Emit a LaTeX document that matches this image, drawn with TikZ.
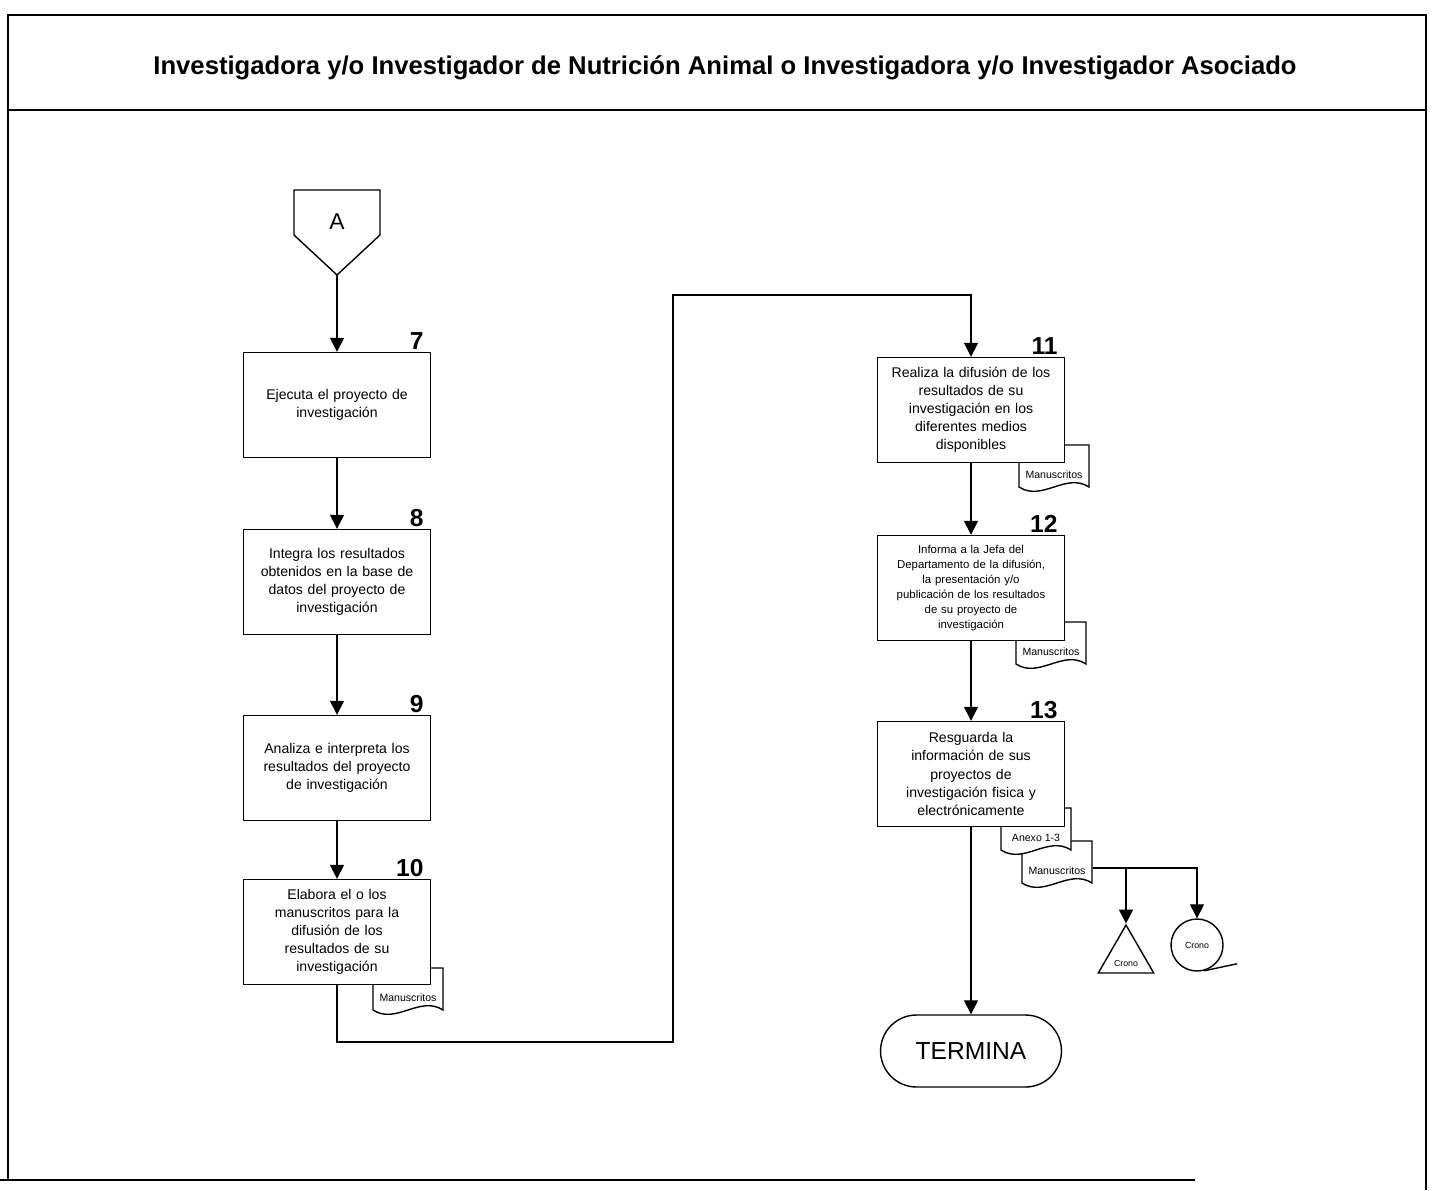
\documentclass[tikz,border=0pt]{standalone}
\usepackage{fontspec}
\setmainfont{Liberation Sans}
\usetikzlibrary{arrows.meta,shapes.geometric,positioning}

\begin{document}
\begin{tikzpicture}[x=0.02cm, y=-0.02cm, line width=0.8pt,
    paso/.style={draw, fill=white, minimum width=3.64cm, minimum height=2.1cm,
      text width=3.5cm, align=center, font=\fontsize{8}{10.3}\selectfont},
    numero/.style={anchor=south east, inner sep=1pt,
      font=\fontsize{14}{14}\selectfont\bfseries},
    docu/.style={inner sep=0pt, font=\fontsize{6}{6}\selectfont},
    flecha/.style={-{Triangle[width=8pt,length=8pt]}}]
    \useasboundingbox (0,0) rectangle (1442,1190);

    % marco y encabezado
    \draw (8,1180) -- (8,15) -- (1426,15) -- (1426,1190);
    \draw (8,110) -- (1426,110);
    \draw (0,1180) -- (1195,1180);
    \node[font=\fontsize{14.6}{15}\selectfont\bfseries] (titulo) at (725,68)
      {Investigadora y/o Investigador de Nutrición Animal o Investigadora y/o Investigador Asociado};

    % conector de pagina
    \draw[fill=white] (294,190) -- (380,190) -- (380,235) -- (337,275) -- (294,235) -- cycle;
    \node[font=\fontsize{13}{13}\selectfont] (conA) at (337,222) {A};
    \coordinate (conApunta) at (337,275);

    % documentos (detras de las cajas)
    \foreach \n/\px/\py/\t in {man10/408/989/Manuscritos, man11/1054/466/Manuscritos,
        man12/1051/643/Manuscritos, man13/1057/862/Manuscritos, anexo/1036/829/Anexo 1-3} {
      \draw[fill=white] (\px-35,\py-21) -- (\px+35,\py-21) -- (\px+35,\py+21)
        .. controls (\px+12,\py+6) and (\px-12,\py+36) .. (\px-35,\py+21) -- cycle;
      \node[docu, minimum width=1.4cm] (\n) at (\px,\py+9) {\t};
    }

    % pasos
    \node[paso] (p7) at (337,405) {Ejecuta el proyecto de\\ investigación};
    \node[paso] (p8) at (337,582) {Integra los resultados\\ obtenidos en la base de\\ datos del proyecto de\\ investigación};
    \node[paso] (p9) at (337,768) {Analiza e interpreta los\\ resultados del proyecto\\ de investigación};
    \node[paso] (p10) at (337,932) {Elabora el o los\\ manuscritos para la\\ difusión de los\\ resultados de su\\ investigación};
    \node[paso] (p11) at (971,410) {Realiza la difusión de los\\ resultados de su\\ investigación en los\\ diferentes medios\\ disponibles};
    \node[paso, font=\fontsize{6.5}{8.6}\selectfont] (p12) at (971,588)
      {Informa a la Jefa del\\ Departamento de la difusión,\\ la presentación y/o\\ publicación de los resultados\\ de su proyecto de\\ investigación};
    \node[paso] (p13) at (971,774) {Resguarda la\\ información de sus\\ proyectos de\\ investigación fisica y\\ electrónicamente};

    \node[numero] (n7) at ([xshift=-0.1cm]p7.north east) {7};
    \node[numero] (n8) at ([xshift=-0.1cm]p8.north east) {8};
    \node[numero] (n9) at ([xshift=-0.1cm]p9.north east) {9};
    \node[numero] (n10) at ([xshift=-0.1cm]p10.north east) {10};
    \node[numero] (n11) at ([xshift=-0.1cm]p11.north east) {11};
    \node[numero] (n12) at ([xshift=-0.1cm]p12.north east) {12};
    \node[numero] (n13) at ([xshift=-0.1cm]p13.north east) {13};

    % fin y archivos
    \node[draw, rounded corners=0.72cm, minimum width=3.62cm, minimum height=1.44cm,
      font=\fontsize{14}{14}\selectfont] (fin) at (971,1051) {TERMINA};
    \node[draw, regular polygon, regular polygon sides=3, minimum size=1.28cm, inner sep=0pt,
      label={[yshift=-0.12cm, font=\fontsize{5}{5}\selectfont]center:Crono}] (tri) at (1126,957) {};
    \node[draw, circle, minimum size=1.04cm, inner sep=0pt,
      font=\fontsize{5}{5}\selectfont] (circ) at (1197,945) {Crono};
    \draw (circ.-75) -- ++(33,-7);
    \coordinate (salida) at (man13.east |- 0,868);

    % conexiones
    \draw[flecha] (conApunta) -- (p7.north);
    \draw[flecha] (p7.south) -- (p8.north);
    \draw[flecha] (p8.south) -- (p9.north);
    \draw[flecha] (p9.south) -- (p10.north);
    \draw[flecha] (p10.south) |- (673,1042) -- (673,295) -| (p11.north);
    \draw[flecha] (p11.south) -- (p12.north);
    \draw[flecha] (p12.south) -- (p13.north);
    \draw[flecha] (p13.south) -- (fin.north);
    \draw[flecha] (salida) -| (circ.north);
    \draw[flecha] (tri.corner 1 |- salida) -- (tri.corner 1);
\end{tikzpicture}
\end{document}
